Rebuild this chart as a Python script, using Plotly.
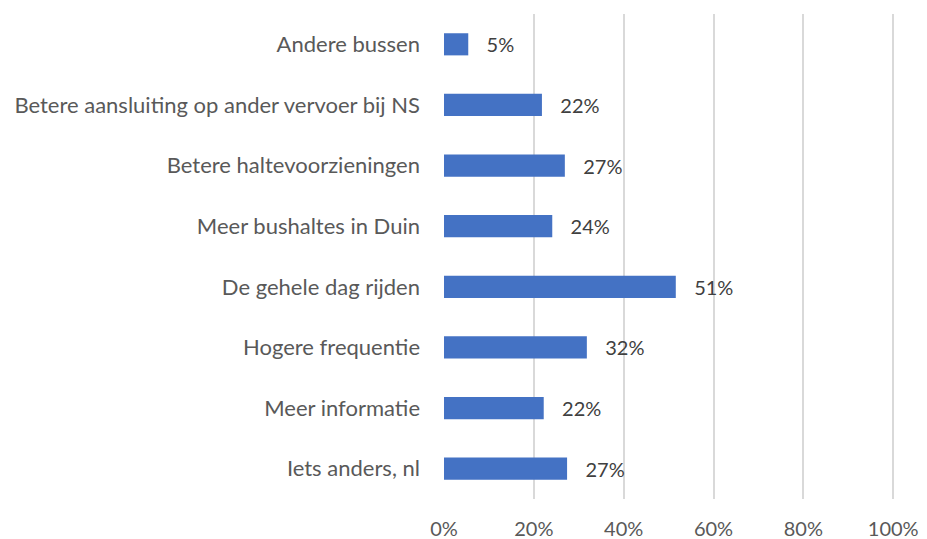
import plotly.graph_objects as go

categories = [
    "Andere bussen",
    "Betere aansluiting op ander vervoer bij NS",
    "Betere haltevoorzieningen",
    "Meer bushaltes in Duin",
    "De gehele dag rijden",
    "Hogere frequentie",
    "Meer informatie",
    "Iets anders, nl",
]
values = [5.4, 21.8, 26.9, 24.1, 51.6, 31.8, 22.2, 27.4]
value_labels = ["5%", "22%", "27%", "24%", "51%", "32%", "22%", "27%"]
x_ticks = [0, 20, 40, 60, 80, 100]
x_tick_labels = ["0%", "20%", "40%", "60%", "80%", "100%"]

font_family = "Lato, 'Open Sans', sans-serif"

fig = go.Figure(
    go.Bar(
        y=categories,
        x=values,
        orientation="h",
        marker=dict(color="#4472C4", line=dict(width=0)),
        text=value_labels,
        texttemplate="   %{text}",
        textposition="outside",
        constraintext="none",
        textfont=dict(color="#404040", size=20, family=font_family),
        cliponaxis=False,
    )
)

fig.update_layout(
    width=927,
    height=539,
    margin=dict(l=436, r=40, t=6, b=48, autoexpand=False),
    plot_bgcolor="white",
    paper_bgcolor="white",
    bargap=0.635,
    showlegend=False,
    font=dict(family=font_family, size=22, color="#595959"),
    xaxis=dict(
        range=[0, 100.4],
        tickvals=x_ticks,
        ticktext=x_tick_labels,
        showgrid=True,
        gridcolor="#D9D9D9",
        gridwidth=1.5,
        zeroline=False,
        showline=False,
        ticks="",
        automargin=False,
        ticklabelstandoff=16,
        tickfont=dict(size=20, color="#595959"),
    ),
    yaxis=dict(
        categoryorder="array",
        categoryarray=categories[::-1],
        autorange=True,
        showgrid=False,
        zeroline=False,
        showline=False,
        ticks="",
        automargin=False,
        ticklabelstandoff=23,
        tickfont=dict(size=22, color="#595959"),
    ),
)

fig.write_html("out.html")
